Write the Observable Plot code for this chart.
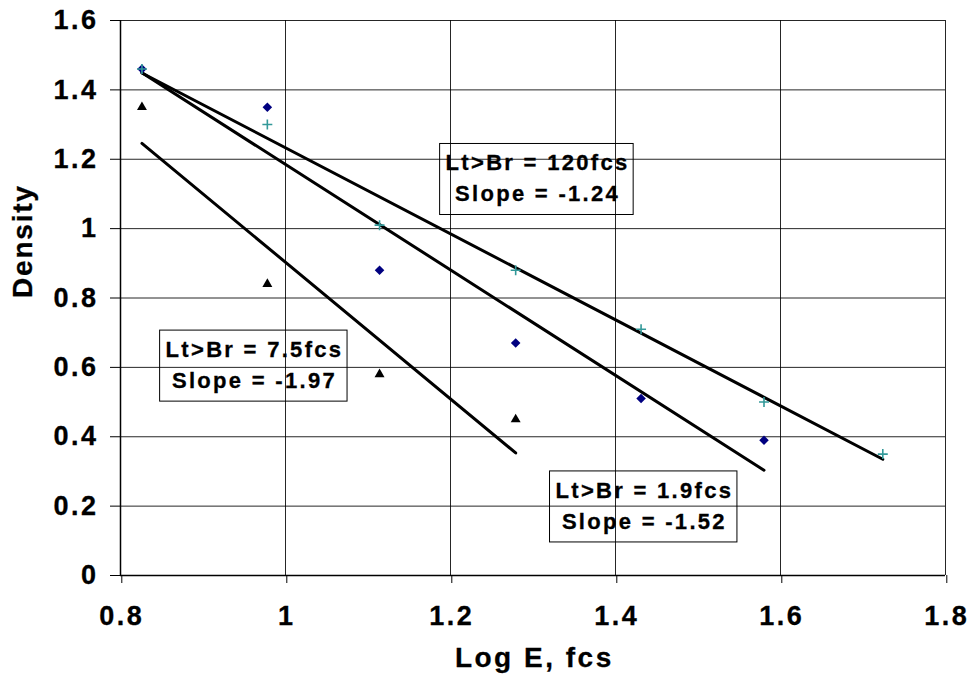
<!DOCTYPE html>
<html>
<head>
<meta charset="utf-8">
<script src="https://cdn.jsdelivr.net/npm/d3@7"></script>
<script src="https://cdn.jsdelivr.net/npm/@observablehq/plot@0.6"></script>
<style>
  body { margin: 0; background: #fff; }
  #chart svg { display: block; }
  #chart svg text { letter-spacing: 2.5px; stroke: #000; stroke-width: 0.3px; }
  #chart g[aria-description="note"] text { letter-spacing: 2.3px; }
  #chart g[aria-description="ytitle"] text { letter-spacing: 1.8px; }
</style>
</head>
<body>
<div id="chart"></div>
<script>
// Log of illuminance (fc) at each measurement step
const logE = [0.826, 0.978, 1.114, 1.279, 1.431, 1.580, 1.724];

// Measured densities for the three Lt>Br settings
const density19 = [1.46, 1.35, 0.88, 0.67, 0.51, 0.39];        // Lt>Br = 1.9 fcs
const density120 = [1.46, 1.30, 1.01, 0.88, 0.71, 0.50, 0.35]; // Lt>Br = 120 fcs
const density75 = [1.35, 0.84, 0.58, 0.45];                    // Lt>Br = 7.5 fcs

// Linear fits: density = intercept + slope * logE
const fitNames = ["120fcs", "1.9fcs", "7.5fcs"];
const fitSlopes = [-1.24, -1.52, -1.97];
const fitIntercepts = [2.473, 2.705, 2.873];
const fitFrom = [0.826, 0.826, 0.826];
const fitTo = [1.724, 1.580, 1.279];

// Callout text and anchor for each fit
const noteLabels = [
  "Lt>Br = 120fcs\nSlope = -1.24",
  "Lt>Br = 1.9fcs\nSlope = -1.52",
  "Lt>Br = 7.5fcs\nSlope = -1.97"
];
const noteX = [1.3055, 1.435, 0.9624];
const noteY = [1.140, 0.196, 0.602];

// Axis ticks
const xTicks = [0.8, 1, 1.2, 1.4, 1.6, 1.8];
const yTicks = [0, 0.2, 0.4, 0.6, 0.8, 1, 1.2, 1.4, 1.6];

const pts = (ys) => ys.map((y, i) => ({x: logE[i], y}));
const fitRows = fitNames.flatMap((name, i) =>
  [fitFrom[i], fitTo[i]].map((x) => ({fit: name, x, y: fitIntercepts[i] + fitSlopes[i] * x}))
);

const font = "'Liberation Sans', Arial, Helvetica, sans-serif";

const chart = Plot.plot({
  width: 971,
  height: 675,
  marginLeft: 120,
  marginRight: 26,
  marginTop: 20,
  marginBottom: 100,
  style: {fontFamily: font, fontWeight: "bold", color: "#000", background: "#fff"},
  x: {domain: [0.8, 1.8]},
  y: {domain: [0, 1.6]},
  marks: [
    Plot.gridX(xTicks, {stroke: "#000", strokeOpacity: 0.85, strokeWidth: 1}),
    Plot.gridY(yTicks, {stroke: "#000", strokeOpacity: 0.85, strokeWidth: 1}),
    Plot.ruleX([0.8], {stroke: "#000", strokeWidth: 1.5}),
    Plot.ruleY([0], {stroke: "#000", strokeWidth: 1.5}),
    Plot.axisY(yTicks, {
      tickSize: 10, tickPadding: 12, fontSize: 27, fontWeight: "bold",
      tickFormat: (d) => String(d), label: null
    }),
    Plot.axisX(xTicks, {
      tickSize: 8, tickPadding: 22, fontSize: 27, fontWeight: "bold",
      tickFormat: (d) => String(d), label: null, dx: 1.3
    }),
    Plot.text(["Log E, fcs"], {
      text: (d) => d, frameAnchor: "bottom", dy: 91, dx: 1.3,
      lineAnchor: "bottom", fontSize: 28, fontWeight: "bold"
    }),
    Plot.text(["Density"], {
      text: (d) => d, frameAnchor: "left", dx: -97, rotate: -90,
      lineAnchor: "middle", fontSize: 28, fontWeight: "bold", ariaDescription: "ytitle"
    }),
    Plot.line(fitRows, {x: "x", y: "y", z: "fit", stroke: "#000", strokeWidth: 3}),
    Plot.dot(pts(density75), {x: "x", y: "y", symbol: "triangle", r: 3.7, fill: "#000", stroke: "none"}),
    Plot.dot(pts(density19), {x: "x", y: "y", symbol: "diamond2", r: 4.3, fill: "#000080", stroke: "none"}),
    Plot.dot(pts(density120), {x: "x", y: "y", symbol: "plus", r: 3.3, stroke: "#339999", strokeWidth: 1.6}),
    Plot.text(d3.range(noteLabels.length), {
      x: (i) => noteX[i], y: (i) => noteY[i], text: (i) => noteLabels[i],
      lineAnchor: "middle", lineHeight: 1.41, fontSize: 22, fontWeight: "bold",
      dy: -4, fill: "#000", ariaDescription: "note"
    })
  ]
});

document.getElementById("chart").append(chart);

// Outline each callout with a thin box sized to its text
const svgNS = "http://www.w3.org/2000/svg";
chart.querySelectorAll('g[aria-description="note"] text').forEach((t) => {
  const b = t.getBBox();
  const padX = 6, padTop = 7, padBottom = 8, trailing = 2.3;
  const r = document.createElementNS(svgNS, "rect");
  r.setAttribute("x", b.x - padX);
  r.setAttribute("y", b.y - padTop);
  r.setAttribute("width", b.width - trailing + 2 * padX);
  r.setAttribute("height", b.height + padTop + padBottom);
  r.setAttribute("fill", "none");
  r.setAttribute("stroke", "#000");
  r.setAttribute("stroke-width", 1);
  const tf = t.getAttribute("transform");
  if (tf) r.setAttribute("transform", tf);
  t.parentNode.insertBefore(r, t);
});
</script>
</body>
</html>
